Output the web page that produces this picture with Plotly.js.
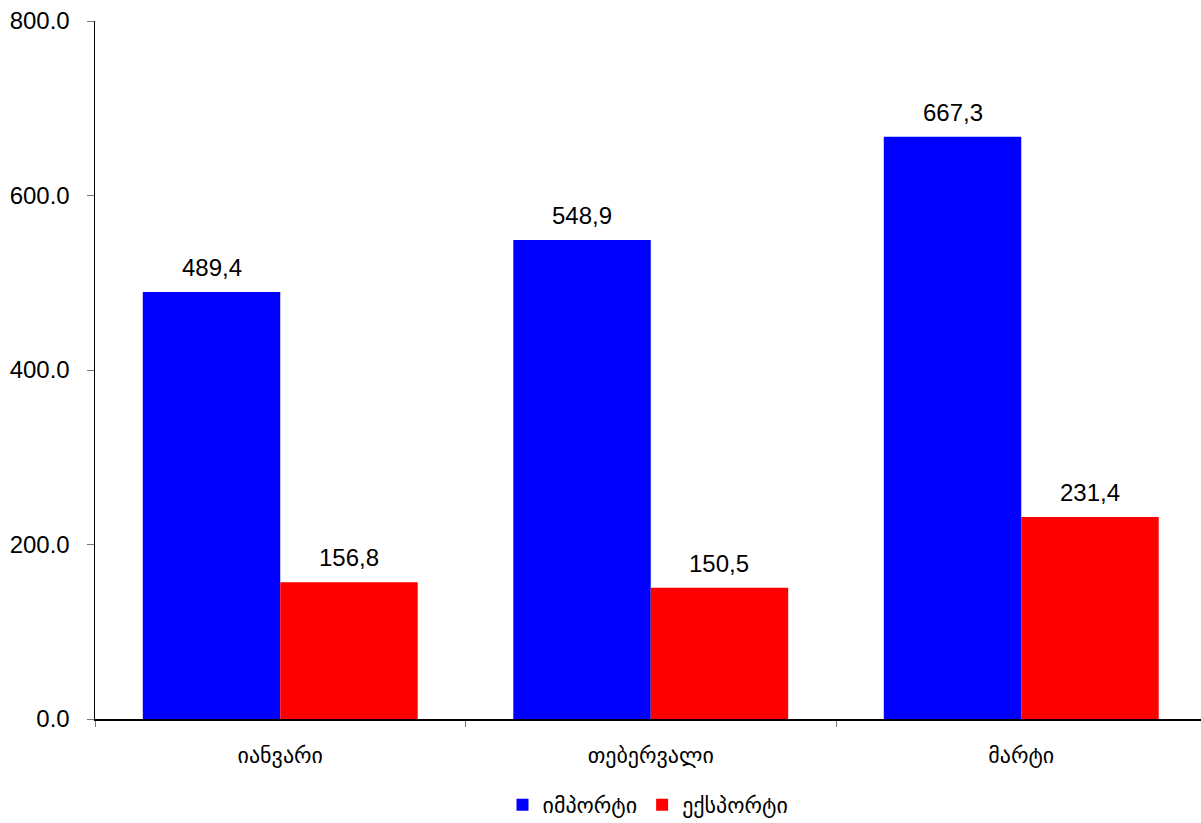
<!DOCTYPE html>
<html>
<head>
<meta charset="utf-8">
<script src="https://cdn.plot.ly/plotly-3.0.1.min.js"></script>
<style>html,body{margin:0;padding:0;background:#fff;}#chart{width:1201px;height:823px;}</style>
</head>
<body>
<div id="chart"></div>
<script>
const categories = ['იანვარი', 'თებერვალი', 'მარტი'];
const importValues = [489.4, 548.9, 667.3];
const exportValues = [156.8, 150.5, 231.4];
const seriesNames = ['იმპორტი', 'ექსპორტი'];
const yTickValues = [0, 200, 400, 600, 800];

const fmt = v => v.toFixed(1).replace('.', ',');
const labelFont = {family: 'Liberation Sans, Arial, sans-serif', size: 24, color: '#000'};
const geoFont = {family: 'DejaVu Sans, sans-serif', size: 22, color: '#000'};

const traces = [
  {type: 'bar', name: seriesNames[0], x: categories, y: importValues, marker: {color: '#0000FF'}, hoverinfo: 'none'},
  {type: 'bar', name: seriesNames[1], x: categories, y: exportValues, marker: {color: '#FF0000'}, hoverinfo: 'none'}
];

const bargap = 0.258;
const half = (1 - bargap) / 4;
const annotations = [];
categories.forEach((c, i) => {
  annotations.push({x: i - half, y: importValues[i], xref: 'x', yref: 'y', text: fmt(importValues[i]), showarrow: false, yanchor: 'bottom', yshift: 9, font: labelFont});
  annotations.push({x: i + half, y: exportValues[i], xref: 'x', yref: 'y', text: fmt(exportValues[i]), showarrow: false, yanchor: 'bottom', yshift: 9, font: labelFont});
});

const layout = {
  width: 1201, height: 823,
  margin: {l: 95, r: 0, t: 21, b: 104, autoexpand: false},
  paper_bgcolor: '#fff', plot_bgcolor: '#fff',
  barmode: 'group', bargap: bargap, bargroupgap: 0,
  showlegend: true,
  legend: {orientation: 'h', x: 0.5, xanchor: 'center', y: -0.123, yanchor: 'middle', font: geoFont, itemwidth: 30, traceorder: 'normal'},
  xaxis: {
    type: 'category', range: [-0.5, -0.5 + 1106 / 370.5], automargin: false,
    showline: true, linecolor: '#000', linewidth: 1.5,
    ticks: 'outside', ticklen: 6, tickcolor: '#777', tickson: 'boundaries',
    ticklabelstandoff: 16,
    tickfont: geoFont, showgrid: false, zeroline: false
  },
  yaxis: {
    range: [0, 800], tickvals: yTickValues, tickformat: '.1f', automargin: false,
    showline: true, linecolor: '#000', linewidth: 1.5,
    ticks: 'outside', ticklen: 7, tickcolor: '#777',
    ticklabelstandoff: 12,
    tickfont: labelFont, showgrid: false, zeroline: false
  },
  annotations: annotations
};

Plotly.newPlot('chart', traces, layout, {staticPlot: true});
</script>
</body>
</html>
